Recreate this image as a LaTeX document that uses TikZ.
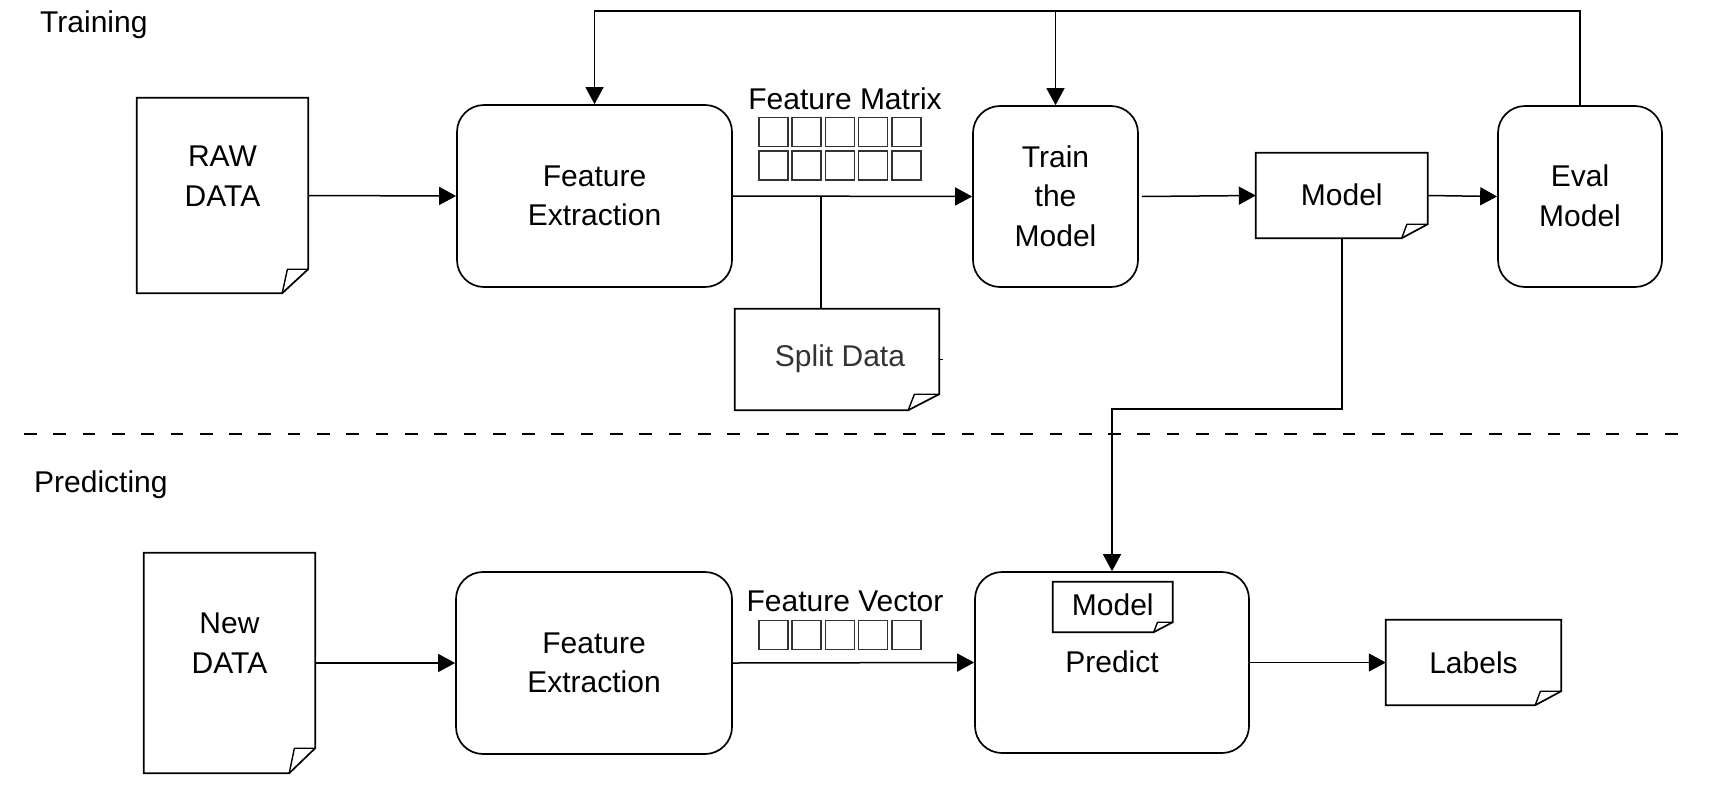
\documentclass[tikz,border=0pt]{standalone}
\usepackage{fontspec}
\setmainfont{Liberation Sans}
\usetikzlibrary{arrows.meta}
\tikzset{
  boxline/.style={draw=black, line width=1.7pt},
  rbox/.style={boxline, rounded corners=27pt, rectangle, inner sep=0pt},
  docnode/.style={rectangle, inner sep=0pt},
  txt/.style={align=center, font=\fontsize{30}{39.5}\selectfont, inner sep=0pt},
  conn/.style={line width=1.5pt, draw=black},
  arr/.style={conn, -{Triangle[length=17pt,width=18pt]}},
  cell/.style={draw=black!80, line width=1.4pt, rectangle, minimum width=29pt, minimum height=29pt, inner sep=0pt},
}
\newcommand\mydoc[3]{%
  \draw[boxline, line join=miter] (#1.north west) -- (#1.north east) -- ([yshift=#3]#1.south east)
     -- ([xshift=-#2]#1.south east) -- (#1.south west) -- cycle;
  \draw[line width=1.4pt, line join=round] ([xshift=-#2]#1.south east) -- ([xshift=-0.8*#2, yshift=#3]#1.south east) -- ([yshift=#3]#1.south east);
}
\begin{document}
\begin{tikzpicture}[x=1pt, y=-1pt]
\useasboundingbox (0,0) rectangle (1715,785);

% section labels
\node[txt, anchor=west] (trainlbl) at (40,25) {Training};
\node[txt, anchor=west] (predlbl) at (34,485) {Predicting};

% dashed separator
\coordinate (dl) at (24,434);
\coordinate (dr) at (1691,434);
\draw[line width=1.5pt, dash pattern=on 12.7pt off 16.6pt] (dl) -- (dr);

% ---------- Training row ----------
\node[docnode, minimum width=171pt, minimum height=195pt] (raw) at (222.5,195.5) {};
\mydoc{raw}{26pt}{24pt}
\node[txt] (rawt) at (222.5,176) {RAW\\DATA};

\node[rbox, minimum width=275pt, minimum height=182pt] (fe1) at (594.5,196) {};
\node[txt] (fe1t) at (594.5,196) {Feature\\Extraction};

\node[rbox, minimum width=165pt, minimum height=181pt] (train) at (1055.5,196.5) {};
\node[txt] (traint) at (1055.5,196) {Train\\the\\Model};

\node[docnode, minimum width=171.5pt, minimum height=85pt] (model) at (1341.75,195.5) {};
\mydoc{model}{26pt}{14pt}
\node[txt] (modelt) at (1341.75,195) {Model};

\node[rbox, minimum width=164pt, minimum height=181pt] (eval) at (1580,196.5) {};
\node[txt] (evalt) at (1580,196) {Eval\\Model};

% feature matrix
\node[txt] (fmlbl) at (845,99) {Feature Matrix};
\foreach \i in {0,...,4} {
  \node[cell] (m1\i) at (773.3+33.3*\i,132) {};
  \node[cell] (m2\i) at (773.3+33.3*\i,165.5) {};
}

% split data
\node[docnode, minimum width=204pt, minimum height=101pt] (split) at (837,359.5) {};
\mydoc{split}{31pt}{16pt}
\node[txt, text=black!80] (splitt) at (840,359) {Split Data};

% ---------- Predicting row ----------
\node[docnode, minimum width=171pt, minimum height=220pt] (new) at (229.5,663) {};
\mydoc{new}{26pt}{25pt}
\node[txt] (newt) at (229.5,643) {New\\DATA};

\node[rbox, minimum width=276pt, minimum height=182pt] (fe2) at (594,663) {};
\node[txt] (fe2t) at (594,663) {Feature\\Extraction};

\node[txt] (fvlbl) at (845,601) {Feature Vector};
\foreach \i in {0,...,4} {
  \node[cell] (v\i) at (773.3+33.3*\i,635) {};
}

\node[rbox, minimum width=274pt, minimum height=181pt] (predict) at (1112,662.5) {};
\node[docnode, minimum width=119.5pt, minimum height=50pt] (pmodel) at (1112.75,607) {};
\mydoc{pmodel}{19pt}{10pt}
\node[txt] (pmodelt) at (1112.75,605) {Model};
\node[txt] (predictt) at (1112,662) {Predict};

\node[docnode, minimum width=175pt, minimum height=85pt] (labels) at (1473.5,662.5) {};
\mydoc{labels}{26pt}{14pt}
\node[txt] (labelst) at (1473.5,663) {Labels};

% ---------- connectors ----------
\draw[arr] (raw.east) -- (fe1.west);
\draw[arr] (fe1.east) -- (train.west);
\draw[arr] ([xshift=3pt]train.east) -- (model.west);
\draw[arr] (model.east) -- (eval.west);

\coordinate (top) at (1580,11);
\draw[arr] (eval.north) -- (top) -- (top -| fe1.north) -- (fe1.north);
\draw[arr] (top -| train.north) -- (train.north);

\coordinate (sp) at (821,196);
\draw[conn] (sp) -- (sp |- split.north);
\draw[conn] (split.east) -- ++(4,0);

\coordinate (bend) at (1341.75,409);
\draw[arr] (model.south) -- (bend) -| (predict.north);

\draw[arr] (new.east) -- (fe2.west);
\draw[arr] (fe2.east) -- (predict.west);
\draw[arr] (predict.east) -- (labels.west);
\end{tikzpicture}
\end{document}
